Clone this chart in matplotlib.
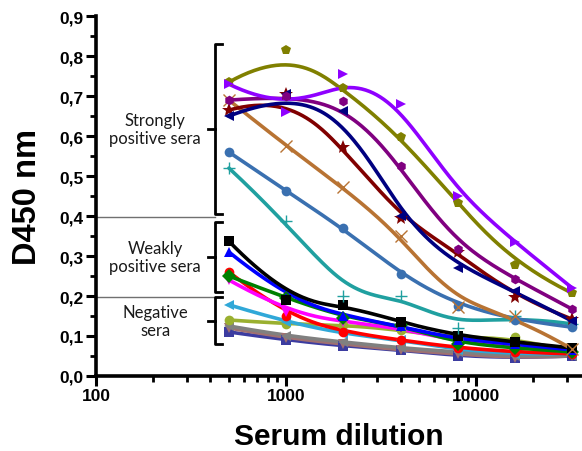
import numpy as np
import matplotlib
matplotlib.use("Agg")
import matplotlib.pyplot as plt
from matplotlib.ticker import FixedLocator, FuncFormatter, LogLocator, NullFormatter

dilutions = [500, 1000, 2000, 4000, 8000, 16000, 32000]

violet = [0.73, 0.66, 0.755, 0.68, 0.45, 0.335, 0.22]
olive = [0.735, 0.815, 0.72, 0.597, 0.432, 0.277, 0.207]
purple = [0.69, 0.70, 0.688, 0.525, 0.317, 0.243, 0.167]
navy = [0.65, 0.705, 0.663, 0.40, 0.27, 0.212, 0.137]
darkred = [0.665, 0.705, 0.572, 0.395, 0.31, 0.197, 0.142]
brown = [0.69, 0.575, 0.472, 0.35, 0.172, 0.15, 0.067]
steel = [0.56, 0.463, 0.37, 0.255, 0.175, 0.14, 0.122]
teal = [0.52, 0.387, 0.20, 0.20, 0.12, 0.15, 0.13]
black = [0.337, 0.19, 0.178, 0.135, 0.10, 0.085, 0.07]
blue = [0.31, 0.195, 0.15, 0.125, 0.09, 0.08, 0.065]
red = [0.26, 0.15, 0.11, 0.09, 0.07, 0.06, 0.055]
magenta = [0.24, 0.16, 0.135, 0.12, 0.085, 0.075, 0.06]
green = [0.25, 0.195, 0.145, 0.128, 0.08, 0.07, 0.06]
skyblue = [0.178, 0.135, 0.105, 0.09, 0.065, 0.055, 0.055]
yellowgreen = [0.14, 0.13, 0.128, 0.115, 0.093, 0.097, 0.06]
gray = [0.125, 0.10, 0.085, 0.07, 0.06, 0.05, 0.05]
rosy = [0.12, 0.095, 0.08, 0.065, 0.055, 0.045, 0.05]
slate = [0.11, 0.09, 0.075, 0.065, 0.05, 0.045, 0.05]

series = [
    ("slate", "#3C3CA0", "s", slate),
    ("rosy", "#A07070", "v", rosy),
    ("gray", "#808080", "<", gray),
    ("yellowgreen", "#9AB030", "o", yellowgreen),
    ("skyblue", "#30A8D8", "<", skyblue),
    ("red", "#FF0000", "o", red),
    ("magenta", "#FF00FF", "v", magenta),
    ("green", "#008000", "D", green),
    ("blue", "#0000FF", "^", blue),
    ("black", "#000000", "s", black),
    ("teal", "#20A0A0", "+", teal),
    ("steel", "#3A70B0", "o", steel),
    ("brown", "#B87333", "x", brown),
    ("darkred", "#800000", "*", darkred),
    ("navy", "#000080", "<", navy),
    ("purple", "#800080", "h", purple),
    ("olive", "#808000", "p", olive),
    ("violet", "#8F00FF", ">", violet),
]

ytick_vals = [0.0, 0.1, 0.2, 0.3, 0.4, 0.5, 0.6, 0.7, 0.8, 0.9]
xtick_vals = [100, 1000, 10000]

groups = [
    ("Strongly\npositive sera", 0.405, 0.83),
    ("Weakly\npositive sera", 0.21, 0.385),
    ("Negative\nsera", 0.08, 0.197),
]
thresholds = [0.4, 0.2]


def bspline(px, py, n=200):
    """Clamped cubic B-spline using the points as control points."""
    P = np.column_stack([px, py])
    k = 3
    m = len(P)
    inner = np.arange(1, m - k)
    knots = np.concatenate([np.zeros(k + 1), inner, np.full(k + 1, m - k)]).astype(float)
    ts = np.linspace(0, m - k, n)
    ts[-1] -= 1e-9
    out = []
    for t in ts:
        N = np.zeros(len(knots) - 1)
        for i in range(len(knots) - 1):
            N[i] = 1.0 if knots[i] <= t < knots[i + 1] else 0.0
        for d in range(1, k + 1):
            Nn = np.zeros(len(knots) - 1 - d)
            for i in range(len(Nn)):
                a = 0.0
                if knots[i + d] != knots[i]:
                    a = (t - knots[i]) / (knots[i + d] - knots[i]) * N[i]
                b = 0.0
                if knots[i + d + 1] != knots[i + 1]:
                    b = (knots[i + d + 1] - t) / (knots[i + d + 1] - knots[i + 1]) * N[i + 1]
                Nn[i] = a + b
            N = Nn
        out.append(N[:m] @ P)
    out = np.array(out)
    return out[:, 0], out[:, 1]


fig = plt.figure(figsize=(5.82, 4.52), dpi=100)
ax = fig.add_axes([0.165, 0.166, 0.835, 0.796])

lx = np.log10(dilutions)
for name, col, mk, vals in series:
    sx, sy = bspline(lx, vals)
    ax.plot(10 ** sx, sy, color=col, lw=2.6, solid_capstyle="round", zorder=2)
    ms = 7
    if mk == "*":
        ms = 10
    if mk in ("+", "x"):
        ax.plot(dilutions, vals, ls="none", marker=mk, color=col, ms=8, mew=1.0, zorder=3)
    else:
        ax.plot(dilutions, vals, ls="none", marker=mk, color=col, ms=ms, mew=0, zorder=3)

ax.set_xscale("log")
ax.set_xlim(100, 36000)
ax.set_ylim(0, 0.9)

for s in ("top", "right"):
    ax.spines[s].set_visible(False)
for s in ("left", "bottom"):
    ax.spines[s].set_linewidth(2.6)

ax.yaxis.set_major_locator(FixedLocator(ytick_vals))
ax.yaxis.set_minor_locator(FixedLocator(np.arange(0.05, 0.9, 0.1)))
ax.yaxis.set_major_formatter(FuncFormatter(lambda v, p: f"{v:.1f}".replace(".", ",")))
ax.xaxis.set_major_locator(FixedLocator(xtick_vals))
ax.xaxis.set_major_formatter(FuncFormatter(lambda v, p: f"{int(v)}"))
ax.xaxis.set_minor_locator(LogLocator(base=10, subs=np.arange(2, 10)))
ax.xaxis.set_minor_formatter(NullFormatter())
ax.tick_params(which="major", direction="out", length=7, width=2.2, labelsize=12.5, pad=2)
ax.tick_params(which="minor", direction="out", length=4, width=2.0)
for lab in ax.get_xticklabels() + ax.get_yticklabels():
    lab.set_fontweight("bold")
    lab.set_family("Liberation Sans")

ax.set_ylabel("D450 nm", fontsize=23.5, fontweight="bold", family="Liberation Sans", labelpad=12)
ax.set_xlabel("Serum dilution", fontsize=21.5, fontweight="bold", family="Liberation Sans", labelpad=13)

for t in thresholds:
    ax.plot([100, 421], [t - 0.003, t - 0.003], color="#707070", lw=1.0, clip_on=False, zorder=1)

bx, bh, bt = 421, 459, 387
for label, y0, y1 in groups:
    ym = (y0 + y1) / 2
    ax.plot([bh, bx, bx, bh], [y1, y1, y0, y0], color="black", lw=2.0, clip_on=False, zorder=4)
    ax.plot([bx, bt], [ym, ym], color="black", lw=2.0, clip_on=False, zorder=4)
    ax.text(205, ym, label, ha="center", va="center", fontsize=12, family="Lato",
            color="#1a1a1a", linespacing=1.15)

fig.savefig("out.png", dpi=100)
